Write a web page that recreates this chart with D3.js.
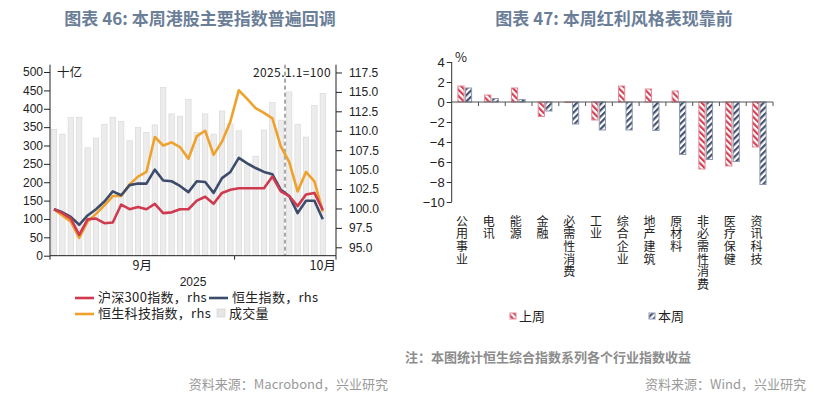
<!DOCTYPE html>
<html>
<head>
<meta charset="utf-8">
<script src="https://cdn.jsdelivr.net/npm/d3@7"></script>
<style>
  body { margin: 0; background: #fff; }
  svg { display: block; font-family: "Noto Sans CJK SC", "Noto Sans", sans-serif; }
  .vlabel { writing-mode: vertical-rl; text-orientation: upright; }
</style>
</head>
<body>
<svg id="chart" width="829" height="397"></svg>
<script>
// ---- left chart data (daily, 2025) ----
const dates = ['09-01','09-02','09-03','09-04','09-05','09-08','09-09','09-10','09-11','09-12',
  '09-15','09-16','09-17','09-18','09-19','09-22','09-23','09-24','09-25','09-26','09-29','09-30',
  '10-02','10-03','10-06','10-08','10-09','10-10','10-13','10-14','10-15','10-16','10-17'];
const volume = [344,331,376,377,294,320,358,377,365,313,349,336,356,458,386,380,426,335,
  386,331,394,359,340,245,271,342,417,369,446,358,323,409,442];
const hs300 = [99.9,99.4,98.7,96.6,98.6,98.7,98.1,98.2,100.5,99.9,100.2,99.9,100.6,99.4,99.5,99.9,
  99.9,101.0,101.5,100.6,102.0,102.4,102.6,102.6,102.6,102.6,104.1,102.2,101.6,100.3,101.8,102.0,99.8];
const hsi = [99.9,99.5,98.9,97.9,99.1,99.9,100.9,102.2,101.7,103.0,103.2,103.2,105.0,103.6,103.5,102.9,
  102.1,103.5,103.4,102.0,103.9,104.7,106.5,105.8,105.2,104.7,104.4,102.4,101.6,99.4,101.0,101.0,98.6];
const hstech = [99.9,99.1,98.3,96.2,98.3,99.3,100.4,101.6,101.6,103.1,104.1,104.7,109.2,108.1,108.5,107.9,
  106.4,109.3,110.0,106.9,108.6,111.2,115.2,114.1,112.9,112.3,111.6,108.0,106.0,102.2,104.7,103.5,99.6];
const leftTicks = [0,50,100,150,200,250,300,350,400,450,500];
const rightTicks = [95,97.5,100,102.5,105,107.5,110,112.5,115,117.5];

// ---- right chart data (%) ----
const sectors = ['公用事业','电讯','能源','金融','必需性消费','工业','综合企业','地产建筑','原材料','非必需性消费','医疗保健','资讯科技'];
const lastWeek = [1.6,0.7,1.4,-1.45,-0.05,-1.8,1.6,1.3,1.1,-6.7,-6.4,-4.5];
const thisWeek = [1.4,0.35,0.25,-0.9,-2.2,-2.8,-2.8,-2.85,-5.25,-5.75,-5.95,-8.25];
const pctTicks = [4,2,0,-2,-4,-6,-8,-10];

const svg = d3.select('#chart');
svg.append('rect').attr('width', 829).attr('height', 397).attr('fill', '#fff');

const titleColor = '#6b7e98';
const red = '#cf3a4e', navy = '#3d4c6b', orange = '#efa12c';

// titles
svg.append('text').attr('x', 200).attr('y', 25).attr('text-anchor', 'middle')
  .attr('font-size', 17).attr('font-weight', 'bold').attr('fill', titleColor)
  .text('图表 46: 本周港股主要指数普遍回调');
svg.append('text').attr('x', 614).attr('y', 25).attr('text-anchor', 'middle')
  .attr('font-size', 17).attr('font-weight', 'bold').attr('fill', titleColor)
  .text('图表 47: 本周红利风格表现靠前');

// ================= left chart =================
const L = {left: 50, right: 336, top: 64.7, bottom: 255.7};
const x = d3.scalePoint().domain(dates).range([54, 54 + 8.4 * (dates.length - 1)]);
const yL = d3.scaleLinear().domain([0, 520]).range([L.bottom, L.top]);
const yR = d3.scaleLinear().domain([93.92, 118.5]).range([L.bottom, L.top]);

const gL = svg.append('g');

gL.selectAll('rect.vol').data(volume).enter().append('rect')
  .attr('class', 'vol')
  .attr('x', (d, i) => x(dates[i]) - 2.7)
  .attr('width', 5.4)
  .attr('y', d => yL(d))
  .attr('height', d => L.bottom - yL(d))
  .attr('fill', '#ececec')
  .attr('stroke', '#d6d6d6')
  .attr('stroke-width', 0.6);

// dashed marker: start of this week
const wkStart = (x('10-10') + x('10-13')) / 2;
gL.append('line').attr('x1', wkStart).attr('x2', wkStart)
  .attr('y1', L.top).attr('y2', L.bottom)
  .attr('stroke', '#555').attr('stroke-width', 1).attr('stroke-dasharray', '4,3');

const line = d3.line().x((d, i) => x(dates[i])).y(d => yR(d));
[[hstech, orange], [hsi, navy], [hs300, red]].forEach(([s, c]) => {
  gL.append('path').datum(s).attr('d', line)
    .attr('fill', 'none').attr('stroke', c).attr('stroke-width', 2.6)
    .attr('stroke-linejoin', 'round');
});

// axes
const axL = gL.append('g').attr('transform', `translate(${L.left},0)`)
  .call(d3.axisLeft(yL).tickValues(leftTicks).tickSize(6).tickPadding(1));
const axR = gL.append('g').attr('transform', `translate(${L.right},0)`)
  .call(d3.axisRight(yR).tickValues(rightTicks).tickFormat(d3.format('.1f')).tickSize(6).tickPadding(7));
[axL, axR].forEach(a => {
  a.select('.domain').attr('d', `M0,${L.top}V${L.bottom}`).attr('stroke', '#222');
  a.selectAll('.tick line').attr('stroke', '#222');
  a.selectAll('text').attr('font-size', 12).attr('fill', '#222')
    .attr('font-family', '"Liberation Sans", Arial, sans-serif');
});

// x axis
const sepEnd = (x('09-30') + x('10-02')) / 2;
gL.append('line').attr('x1', L.left).attr('x2', L.right).attr('y1', L.bottom).attr('y2', L.bottom)
  .attr('stroke', '#222');
[L.left, sepEnd, L.right].forEach(t => {
  gL.append('line').attr('x1', t).attr('x2', t).attr('y1', L.bottom).attr('y2', L.bottom + 4)
    .attr('stroke', '#222');
});
gL.append('text').attr('x', (L.left + sepEnd) / 2).attr('y', 270).attr('text-anchor', 'middle')
  .attr('font-size', 12.5).attr('fill', '#222').text('9月');
gL.append('text').attr('x', x(dates[dates.length - 1])).attr('y', 270).attr('text-anchor', 'middle')
  .attr('font-size', 12.5).attr('fill', '#222').text('10月');
gL.append('text').attr('x', (L.left + L.right) / 2).attr('y', 286).attr('text-anchor', 'middle')
  .attr('font-size', 12).attr('fill', '#222')
  .attr('font-family', '"Liberation Sans", Arial, sans-serif').text('2025');

gL.append('text').attr('x', 57).attr('y', 77).attr('font-size', 12.5).attr('fill', '#222').text('十亿');
gL.append('text').attr('x', 331).attr('y', 77).attr('text-anchor', 'end').attr('font-size', 12)
  .attr('fill', '#222').attr('letter-spacing', 0.4).text('2025.1.1=100');

// legend
const legL = [
  {label: '沪深300指数，rhs', color: red, x: 75, y: 302, type: 'line'},
  {label: '恒生指数，rhs', color: navy, x: 209, y: 302, type: 'line'},
  {label: '恒生科技指数，rhs', color: orange, x: 75, y: 318, type: 'line'},
  {label: '成交量', color: '#e6e6e6', x: 217, y: 318, type: 'box'}
];
legL.forEach(d => {
  if (d.type === 'line') {
    gL.append('line').attr('x1', d.x).attr('x2', d.x + 19).attr('y1', d.y - 4).attr('y2', d.y - 4)
      .attr('stroke', d.color).attr('stroke-width', 2.6);
    gL.append('text').attr('x', d.x + 23).attr('y', d.y).attr('font-size', 13).attr('fill', '#222')
      .attr('letter-spacing', 0.3).text(d.label);
  } else {
    gL.append('rect').attr('x', d.x).attr('y', d.y - 9).attr('width', 8).attr('height', 8)
      .attr('fill', d.color).attr('stroke', '#cfcfcf').attr('stroke-width', 0.6);
    gL.append('text').attr('x', d.x + 12).attr('y', d.y).attr('font-size', 13).attr('fill', '#222')
      .attr('letter-spacing', 0.3).text(d.label);
  }
});

svg.append('text').attr('x', 388).attr('y', 389).attr('text-anchor', 'end')
  .attr('font-size', 13).attr('fill', '#9a9a9a').text('资料来源：Macrobond，兴业研究');

// ================= right chart =================
const R = {left: 451.7, right: 773, top: 62, bottom: 202};
const defs = svg.append('defs');
function hatch(id, color, angle) {
  const p = defs.append('pattern').attr('id', id).attr('patternUnits', 'userSpaceOnUse')
    .attr('width', 4.4).attr('height', 4.4).attr('patternTransform', `rotate(${angle})`);
  p.append('rect').attr('width', 4.4).attr('height', 4.4).attr('fill', '#fff');
  p.append('line').attr('x1', 1.1).attr('x2', 1.1).attr('y1', 0).attr('y2', 4.4)
    .attr('stroke', color).attr('stroke-width', 2.1);
}
hatch('hatch-red', red, -45);
hatch('hatch-navy', navy, 45);

const xb = d3.scaleBand().domain(sectors).range([R.left, R.right]);
const yP = d3.scaleLinear().domain([-10, 4]).range([R.bottom, R.top]);
const gR = svg.append('g');

const series = [
  {vals: lastWeek, fill: 'url(#hatch-red)', stroke: '#e48a97', off: -7.2},
  {vals: thisWeek, fill: 'url(#hatch-navy)', stroke: '#8e98ae', off: 0.3}
];
series.forEach(s => {
  gR.selectAll(null).data(s.vals).enter().append('rect')
    .attr('x', (d, i) => xb(sectors[i]) + xb.bandwidth() / 2 + s.off)
    .attr('width', 6.2)
    .attr('y', d => yP(Math.max(0, d)))
    .attr('height', d => Math.abs(yP(d) - yP(0)))
    .attr('fill', s.fill).attr('stroke', s.stroke).attr('stroke-width', 1);
});

const axP = gR.append('g').attr('transform', `translate(${R.left},0)`)
  .call(d3.axisLeft(yP).tickValues(pctTicks).tickSize(5).tickPadding(2));
axP.select('.domain').attr('d', `M0,${R.top}V${R.bottom}`).attr('stroke', '#333');
axP.selectAll('.tick line').attr('stroke', '#333');
axP.selectAll('text').attr('font-size', 13).attr('fill', '#222')
  .attr('font-family', '"Liberation Sans", Arial, sans-serif');

// zero line with category ticks
gR.append('line').attr('x1', R.left).attr('x2', R.right).attr('y1', yP(0)).attr('y2', yP(0))
  .attr('stroke', '#555');
sectors.forEach(s => {
  const t = xb(s) + xb.bandwidth();
  gR.append('line').attr('x1', t).attr('x2', t).attr('y1', yP(0)).attr('y2', yP(0) + 4).attr('stroke', '#555');
});

gR.append('text').attr('x', 455).attr('y', 62).attr('font-size', 13).attr('fill', '#222').text('%');

// vertical category labels
gR.selectAll('text.vlabel').data(sectors).enter().append('text')
  .attr('class', 'vlabel')
  .attr('x', d => xb(d) + xb.bandwidth() / 2 - 3)
  .attr('y', 215)
  .attr('font-size', 12)
  .attr('letter-spacing', 0.7)
  .attr('fill', '#222')
  .text(d => d);

// legend
const legR = [
  {label: '上周', fill: 'url(#hatch-red)', stroke: '#e48a97', x: 510},
  {label: '本周', fill: 'url(#hatch-navy)', stroke: '#8e98ae', x: 649}
];
legR.forEach(d => {
  gR.append('rect').attr('x', d.x).attr('y', 313).attr('width', 6).attr('height', 6)
    .attr('fill', d.fill).attr('stroke', d.stroke);
  gR.append('text').attr('x', d.x + 9).attr('y', 321).attr('font-size', 13).attr('fill', '#222').text(d.label);
});

svg.append('text').attr('x', 405).attr('y', 362).attr('font-size', 13).attr('font-weight', 'bold')
  .attr('fill', '#8c8c8c').text('注：本图统计恒生综合指数系列各个行业指数收益');
svg.append('text').attr('x', 806).attr('y', 389).attr('text-anchor', 'end')
  .attr('font-size', 13).attr('fill', '#9a9a9a').text('资料来源：Wind，兴业研究');
</script>
</body>
</html>
